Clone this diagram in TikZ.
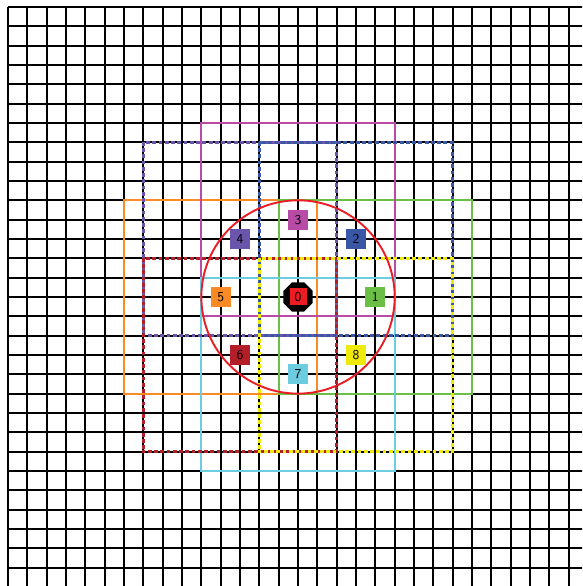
\documentclass[tikz,border=0pt]{standalone}
\usepackage{tikz}
\usetikzlibrary{shapes.geometric}
\definecolor{nbOrange}{HTML}{FA8A25}
\definecolor{nbGreen}{HTML}{6CBF45}
\definecolor{nbMagenta}{HTML}{B84BA6}
\definecolor{nbCyan}{HTML}{6CCDE0}
\definecolor{nbPurple}{HTML}{6B55AA}
\definecolor{nbBlue}{HTML}{3A57A6}
\definecolor{nbDarkRed}{HTML}{B21F28}
\definecolor{nbYellow}{HTML}{F0EA0A}
\definecolor{nbRed}{HTML}{EC1C24}

\begin{document}
\begin{tikzpicture}[
    x=0.5cm, y=0.5cm,
    gridline/.style={line width=1.3pt, black},
    region/.style={draw, line width=1.4pt, minimum size=5cm, inner sep=0pt},
    dotregion/.style={region, line width=2.6pt, line cap=rect,
                      dash pattern=on 0.2pt off 4.4pt},
    tag/.style={minimum size=0.52cm, inner sep=0pt, font=\sffamily}
  ]
    \useasboundingbox (-0.414, 0.05) rectangle (29.69, 30.36);
    \clip (-0.414, 0.05) rectangle (29.69, 30.36);
    \foreach \k in {0,...,30} {
      \draw[gridline] (\k,0) -- (\k,30);
      \draw[gridline] (0,\k) -- (30,\k);
    }
    \node[region, draw=nbOrange] (r5) at (11,15) {};
    \node[region, draw=nbGreen] (r1) at (19,15) {};
    \node[region, draw=nbMagenta] (r3) at (15,19) {};
    \node[region, draw=nbCyan] (r7) at (15,11) {};
    \node[dotregion, draw=nbPurple] (r4) at (12,18) {};
    \node[dotregion, draw=nbBlue] (r2) at (18,18) {};
    \node[dotregion, draw=nbDarkRed] (r6) at (12,12) {};
    \node[dotregion, draw=nbYellow] (r8) at (18,12) {};
    \node[circle, draw=nbRed, line width=1.4pt, minimum size=5cm,
          inner sep=0pt] (range) at (15,15) {};
    \node[regular polygon, regular polygon sides=8, fill=black,
          minimum size=0.82cm, inner sep=0pt] (hub) at (15,15) {};
    \node[tag, fill=nbRed, minimum size=0.44cm] (n0) at (hub) {0};
    \node[tag, fill=nbGreen] (n1) at (r1) {1};
    \node[tag, fill=nbBlue] (n2) at (r2) {2};
    \node[tag, fill=nbMagenta] (n3) at (r3) {3};
    \node[tag, fill=nbPurple] (n4) at (r4) {4};
    \node[tag, fill=nbOrange] (n5) at (r5) {5};
    \node[tag, fill=nbDarkRed] (n6) at (r6) {6};
    \node[tag, fill=nbCyan] (n7) at (r7) {7};
    \node[tag, fill=nbYellow] (n8) at (r8) {8};
  \end{tikzpicture}
\end{document}
